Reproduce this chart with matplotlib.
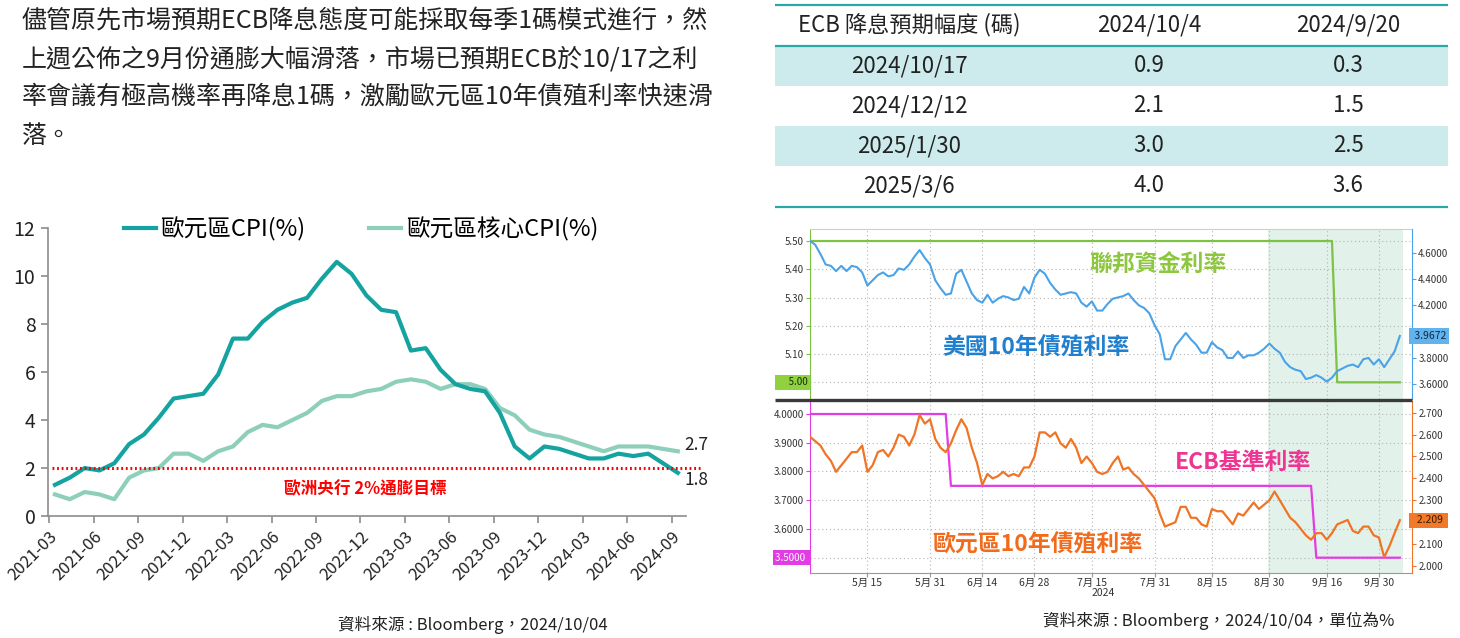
import numpy as np
import matplotlib
matplotlib.use("Agg")
import matplotlib.pyplot as plt
import matplotlib.transforms as mtransforms
from matplotlib.patches import Rectangle
from matplotlib.lines import Line2D

plt.rcParams['font.family'] = ['Noto Sans CJK TC', 'DejaVu Sans']

# ---------------- data ----------------
paragraph_lines = [
    "儘管原先市場預期ECB降息態度可能採取每季1碼模式進行，然",
    "上週公佈之9月份通膨大幅滑落，市場已預期ECB於10/17之利",
    "率會議有極高機率再降息1碼，激勵歐元區10年債殖利率快速滑",
    "落。",
]

table_header = ["ECB 降息預期幅度 (碼)", "2024/10/4", "2024/9/20"]
meeting_dates = ["2024/10/17", "2024/12/12", "2025/1/30", "2025/3/6"]
cuts_2024_10_04 = [0.9, 2.1, 3.0, 4.0]
cuts_2024_09_20 = [0.3, 1.5, 2.5, 3.6]

cpi_tick_labels = ["2021-03", "2021-06", "2021-09", "2021-12", "2022-03", "2022-06",
                   "2022-09", "2022-12", "2023-03", "2023-06", "2023-09", "2023-12",
                   "2024-03", "2024-06", "2024-09"]
cpi_headline = [1.3, 1.6, 2.0, 1.9, 2.2, 3.0, 3.4, 4.1, 4.9, 5.0,
                5.1, 5.9, 7.4, 7.4, 8.1, 8.6, 8.9, 9.1, 9.9, 10.6, 10.1, 9.2,
                8.6, 8.5, 6.9, 7.0, 6.1, 5.5, 5.3, 5.2, 4.3, 2.9, 2.4, 2.9,
                2.8, 2.6, 2.4, 2.4, 2.6, 2.5, 2.6, 2.2, 1.8]
cpi_core = [0.9, 0.7, 1.0, 0.9, 0.7, 1.6, 1.9, 2.0, 2.6, 2.6,
            2.3, 2.7, 2.9, 3.5, 3.8, 3.7, 4.0, 4.3, 4.8, 5.0, 5.0, 5.2,
            5.3, 5.6, 5.7, 5.6, 5.3, 5.5, 5.5, 5.3, 4.5, 4.2, 3.6, 3.4,
            3.3, 3.1, 2.9, 2.7, 2.9, 2.9, 2.9, 2.8, 2.7]
cpi_target = 2.0

# Bloomberg panel: business-day index from 2024-04-30
bbg_tick_idx = [11, 23, 33, 43, 54, 66, 77, 88, 99, 109]
bbg_tick_labels = ["5月 15", "5月 31", "6月 14", "6月 28", "7月 15", "7月 31",
                   "8月 15", "8月 30", "9月 16", "9月 30"]
us10y = [4.69, 4.66, 4.59, 4.51, 4.50, 4.46, 4.50, 4.46, 4.50, 4.49,
         4.45, 4.35, 4.39, 4.43, 4.45, 4.42, 4.43, 4.48, 4.47, 4.51,
         4.57, 4.62, 4.56, 4.51, 4.39, 4.33, 4.28, 4.29, 4.44, 4.47,
         4.38, 4.29, 4.24, 4.22, 4.28, 4.22, 4.25, 4.27, 4.26, 4.24,
         4.25, 4.34, 4.29, 4.41, 4.47, 4.44, 4.37, 4.32, 4.28, 4.29,
         4.30, 4.29, 4.22, 4.19, 4.23, 4.16, 4.16, 4.21, 4.25, 4.26,
         4.27, 4.29, 4.24, 4.20, 4.18, 4.14, 4.05, 3.98, 3.79, 3.79,
         3.89, 3.94, 3.99, 3.94, 3.90, 3.84, 3.84, 3.92, 3.88, 3.86,
         3.80, 3.80, 3.85, 3.80, 3.82, 3.82, 3.84, 3.87, 3.91, 3.87,
         3.84, 3.77, 3.73, 3.71, 3.70, 3.64, 3.65, 3.67, 3.65, 3.62,
         3.65, 3.70, 3.72, 3.74, 3.75, 3.73, 3.79, 3.80, 3.75, 3.79,
         3.73, 3.79, 3.85, 3.9672]
eu10y = [2.59, 2.57, 2.55, 2.51, 2.48, 2.43, 2.46, 2.49, 2.52, 2.52,
         2.55, 2.43, 2.46, 2.52, 2.53, 2.50, 2.54, 2.60, 2.59, 2.55,
         2.60, 2.69, 2.65, 2.67, 2.58, 2.54, 2.52, 2.56, 2.62, 2.67,
         2.63, 2.54, 2.47, 2.37, 2.42, 2.40, 2.41, 2.43, 2.41, 2.42,
         2.41, 2.45, 2.45, 2.50, 2.61, 2.61, 2.59, 2.61, 2.56, 2.54,
         2.58, 2.54, 2.47, 2.50, 2.47, 2.43, 2.42, 2.43, 2.47, 2.50,
         2.44, 2.45, 2.42, 2.40, 2.37, 2.34, 2.31, 2.24, 2.18, 2.19,
         2.20, 2.27, 2.27, 2.22, 2.22, 2.19, 2.18, 2.26, 2.25, 2.25,
         2.22, 2.19, 2.24, 2.23, 2.26, 2.29, 2.26, 2.28, 2.30, 2.34,
         2.30, 2.26, 2.22, 2.20, 2.17, 2.14, 2.12, 2.15, 2.15, 2.12,
         2.15, 2.19, 2.20, 2.21, 2.16, 2.15, 2.18, 2.18, 2.14, 2.13,
         2.04, 2.09, 2.15, 2.209]
fed_idx = [0, 100, 101, 113]
fed_rate = [5.50, 5.50, 5.00, 5.00]
ecb_idx = [0, 26, 27, 96, 97, 113]
ecb_rate = [4.00, 4.00, 3.75, 3.75, 3.50, 3.50]
shade_span = (87.7, 113.6)

fed_ticks = [5.0, 5.1, 5.2, 5.3, 5.4, 5.5]
us_ticks = [3.6, 3.8, 4.0, 4.2, 4.4, 4.6]
ecb_ticks = [3.5, 3.6, 3.7, 3.8, 3.9, 4.0]
eu_ticks = [2.0, 2.1, 2.2, 2.3, 2.4, 2.5, 2.6, 2.7]

# ---------------- figure ----------------
W, H = 1460, 638
fig = plt.figure(figsize=(W / 100, H / 100), dpi=100)
fig.patch.set_facecolor('white')


def rect(x0, y0, x1, y1):
    return [x0 / W, 1 - y1 / H, (x1 - x0) / W, (y1 - y0) / H]


def tick_texts(ticks, fmt, tag_value):
    # the value tag drawn on the axis hides the tick label next to it
    step = ticks[1] - ticks[0]
    return ['' if abs(v - tag_value) < 0.4 * step else fmt.format(v) for v in ticks]


cv = fig.add_axes([0, 0, 1, 1], zorder=10)
cv.set_xlim(0, W)
cv.set_ylim(H, 0)
cv.axis('off')

TXT = '#222222'

# paragraph
for k, line in enumerate(paragraph_lines):
    cv.text(22, 21 + 38.3 * k, line, fontsize=18, color=TXT, ha='left', va='center')

# table
TEAL = '#2aa7a7'
SHADE = '#cdebec'
tx0, tx1 = 775, 1448
col_x = [909, 1149, 1348]
row_top, row_h = 46, 40
for r in range(len(meeting_dates)):
    y0 = row_top + r * row_h
    if r % 2 == 0:
        cv.add_patch(Rectangle((tx0, y0), tx1 - tx0, row_h, facecolor=SHADE, lw=0, zorder=0))
    vals = [meeting_dates[r], f"{cuts_2024_10_04[r]:.1f}", f"{cuts_2024_09_20[r]:.1f}"]
    for c, v in enumerate(vals):
        cv.text(col_x[c], y0 + row_h / 2, v, ha='center', va='center', fontsize=16, color=TXT)
for c, h in enumerate(table_header):
    cv.text(col_x[c], 25, h, ha='center', va='center', fontsize=16, color=TXT)
for yl in (5, 45.5, 206.5):
    cv.plot([tx0, tx1], [yl, yl], color=TEAL, lw=1.6, solid_capstyle='butt')

# ---------------- left CPI chart ----------------
C_HEAD = '#14a3a0'
C_CORE = '#8ecfbc'
ax = fig.add_axes(rect(48, 228.3, 686, 516))
xm = np.arange(len(cpi_headline))
ax.plot(xm, cpi_core, color=C_CORE, lw=3, zorder=3)
ax.plot(xm, cpi_headline, color=C_HEAD, lw=3, zorder=4)
ax.plot([-0.2, 43.6], [cpi_target, cpi_target], color='#ff0000', lw=2.2,
        ls=(0, (0.6, 0.9)), clip_on=False, zorder=5)
ax.set_xlim(-0.472, 42.55)
ax.set_ylim(0, 12)
ax.set_yticks(np.arange(0, 13, 2))
ax.set_xticks(np.arange(0, len(cpi_headline), 3) - 0.4)
ax.set_xticklabels(cpi_tick_labels, rotation=45, ha='right', rotation_mode='anchor')
for s in ('top', 'right'):
    ax.spines[s].set_visible(False)
for s in ('left', 'bottom'):
    ax.spines[s].set_color('#8c8c8c')
    ax.spines[s].set_linewidth(1.2)
ax.tick_params(axis='y', length=5, width=1.2, color='#8c8c8c', labelsize=14, labelcolor=TXT, pad=4)
ax.tick_params(axis='x', length=5, width=1.2, color='#8c8c8c', labelsize=12, labelcolor=TXT, pad=4)
ax.annotate(f"{cpi_core[-1]:.1f}", (xm[-1], cpi_core[-1]), xytext=(4.5, 4.3),
            textcoords='offset points', ha='left', va='center', fontsize=12.5, color=TXT)
ax.annotate(f"{cpi_headline[-1]:.1f}", (xm[-1], cpi_headline[-1]), xytext=(4.5, -5),
            textcoords='offset points', ha='left', va='center', fontsize=12.5, color=TXT)
ax.text(20.9, 1.13, "歐洲央行 2%通膨目標", color='#ff0000', fontsize=12,
        ha='center', va='center', fontweight='bold')

handles = [Line2D([], [], color=C_HEAD, lw=3), Line2D([], [], color=C_CORE, lw=3)]
fig.legend(handles, ["歐元區CPI(%)", "歐元區核心CPI(%)"], loc='center',
           bbox_to_anchor=(361 / W, 1 - 229 / H), ncol=2, frameon=False, fontsize=17,
           handlelength=1.35, handletextpad=0.2, columnspacing=2.7)

cv.text(473, 625, "資料來源 : Bloomberg，2024/10/04", fontsize=12, color=TXT, ha='center', va='center')

# ---------------- Bloomberg panels ----------------
GREEN = '#7dc242'
BLUE = '#4aa3e8'
MAG = '#e23ce4'
ORG = '#f07425'
LBL = '#333333'
GRID = dict(color='#b5b5b5', lw=0.8, ls=(0, (1, 2.5)))
xb_max = 115.33
xb = np.arange(len(us10y))

# top panel
axT = fig.add_axes(rect(810, 229, 1412, 399))
axT.set_xlim(0, xb_max)
axT.set_ylim(4.941, 5.5425)
axT.axvspan(*shade_span, color='#e2f1ea', lw=0, zorder=0)
axT.set_yticks(fed_ticks)
axT.set_yticklabels(tick_texts(fed_ticks, "{:.2f}", fed_rate[-1]))
axT.set_xticks(bbg_tick_idx)
axT.tick_params(axis='x', length=0, labelbottom=False)
axT.tick_params(axis='y', length=3, color=GREEN, labelsize=7, labelcolor=LBL, pad=1.5)
axT.grid(True, **GRID)
axT.set_axisbelow(True)
axT.plot(fed_idx, fed_rate, color=GREEN, lw=1.6, zorder=3)
for s in ('bottom', 'right'):
    axT.spines[s].set_visible(False)
axT.spines['left'].set_color(GREEN)
axT.spines['top'].set_color('#cfcfcf')
axT.spines['top'].set_linewidth(0.8)

axTr = axT.twinx()
axTr.set_ylim(3.488, 4.780)
axTr.plot(xb, us10y, color=BLUE, lw=1.5, zorder=4)
axTr.set_yticks(us_ticks)
axTr.set_yticklabels(tick_texts(us_ticks, "{:.4f}", us10y[-1]))
axTr.tick_params(axis='y', length=3, color=BLUE, labelsize=7, labelcolor=LBL, pad=1.5)
for s in ('left', 'top', 'bottom'):
    axTr.spines[s].set_visible(False)
axTr.spines['right'].set_color(BLUE)

btr = mtransforms.blended_transform_factory(axTr.transAxes, axTr.transData)
axTr.text(1.0, us10y[-1], f" {us10y[-1]:.4f}", transform=btr, ha='left', va='center',
          fontsize=7.5, color='#0e2a44', clip_on=False, zorder=20,
          bbox=dict(boxstyle='square,pad=0.25', fc='#62b3ec', ec='none'))
btl = mtransforms.blended_transform_factory(axT.transAxes, axT.transData)
axT.text(-0.004, fed_rate[-1], f"     {fed_rate[-1]:.2f}", transform=btl, ha='right', va='center',
         fontsize=7, color='#1a2a10', clip_on=False, zorder=20,
         bbox=dict(boxstyle='square,pad=0.25', fc='#8fd13f', ec='none'))

# bottom panel
axB = fig.add_axes(rect(810, 401, 1412, 573))
axB.set_xlim(0, xb_max)
axB.set_ylim(3.4467, 4.0453)
axB.axvspan(*shade_span, color='#e2f1ea', lw=0, zorder=0)
axB.set_yticks(ecb_ticks)
axB.set_yticklabels(tick_texts(ecb_ticks, "{:.4f}", ecb_rate[-1]))
axB.set_xticks(bbg_tick_idx)
axB.set_xticklabels(bbg_tick_labels)
axB.tick_params(axis='x', length=3, color='#999999', labelsize=7.5, labelcolor=LBL, pad=0.8)
axB.tick_params(axis='y', length=3, color=MAG, labelsize=7, labelcolor=LBL, pad=1.5)
axB.grid(True, **GRID)
axB.set_axisbelow(True)
axB.plot(ecb_idx, ecb_rate, color=MAG, lw=1.6, zorder=3)
for s in ('top', 'right'):
    axB.spines[s].set_visible(False)
axB.spines['left'].set_color(MAG)
axB.spines['bottom'].set_color('#999999')

axBr = axB.twinx()
axBr.set_ylim(1.968, 2.7534)
axBr.plot(xb, eu10y, color=ORG, lw=1.6, zorder=4)
axBr.set_yticks(eu_ticks)
axBr.set_yticklabels(tick_texts(eu_ticks, "{:.3f}", eu10y[-1]))
axBr.tick_params(axis='y', length=3, color=ORG, labelsize=7, labelcolor=LBL, pad=1.5)
for s in ('left', 'top', 'bottom'):
    axBr.spines[s].set_visible(False)
axBr.spines['right'].set_color(ORG)

bbr = mtransforms.blended_transform_factory(axBr.transAxes, axBr.transData)
axBr.text(1.0, eu10y[-1], f"  {eu10y[-1]:.3f} ", transform=bbr, ha='left', va='center',
          fontsize=7.5, color='#3a1a00', clip_on=False, zorder=20,
          bbox=dict(boxstyle='square,pad=0.25', fc='#f07a2a', ec='none'))
bbl = mtransforms.blended_transform_factory(axB.transAxes, axB.transData)
axB.text(-0.004, ecb_rate[-1], f"{ecb_rate[-1]:.4f} ", transform=bbl, ha='right', va='center',
         fontsize=7, color='white', clip_on=False, zorder=20,
         bbox=dict(boxstyle='square,pad=0.25', fc='#e23ce4', ec='none'))

# divider and labels for Bloomberg chart
cv.plot([775, 1412], [399.5, 399.5], color='#3a3a3a', lw=2.4, solid_capstyle='butt')
cv.text(1103, 593, "2024", fontsize=7.5, color=LBL, ha='center', va='center')
cv.text(1158, 265, "聯邦資金利率", color='#8dc63f', fontsize=16.5, fontweight='bold', ha='center', va='center')
cv.text(1036, 348, "美國10年債殖利率", color='#1f7fd0', fontsize=16.5, fontweight='bold', ha='center', va='center')
cv.text(1243, 462, "ECB基準利率", color='#ee3592', fontsize=16.5, fontweight='bold', ha='center', va='center')
cv.text(1037, 545, "歐元區10年債殖利率", color='#f26a1b', fontsize=16.5, fontweight='bold', ha='center', va='center')
cv.text(1219, 621, "資料來源 : Bloomberg，2024/10/04，單位為%", fontsize=12, color=TXT, ha='center', va='center')

fig.savefig('out.png', dpi=100)
